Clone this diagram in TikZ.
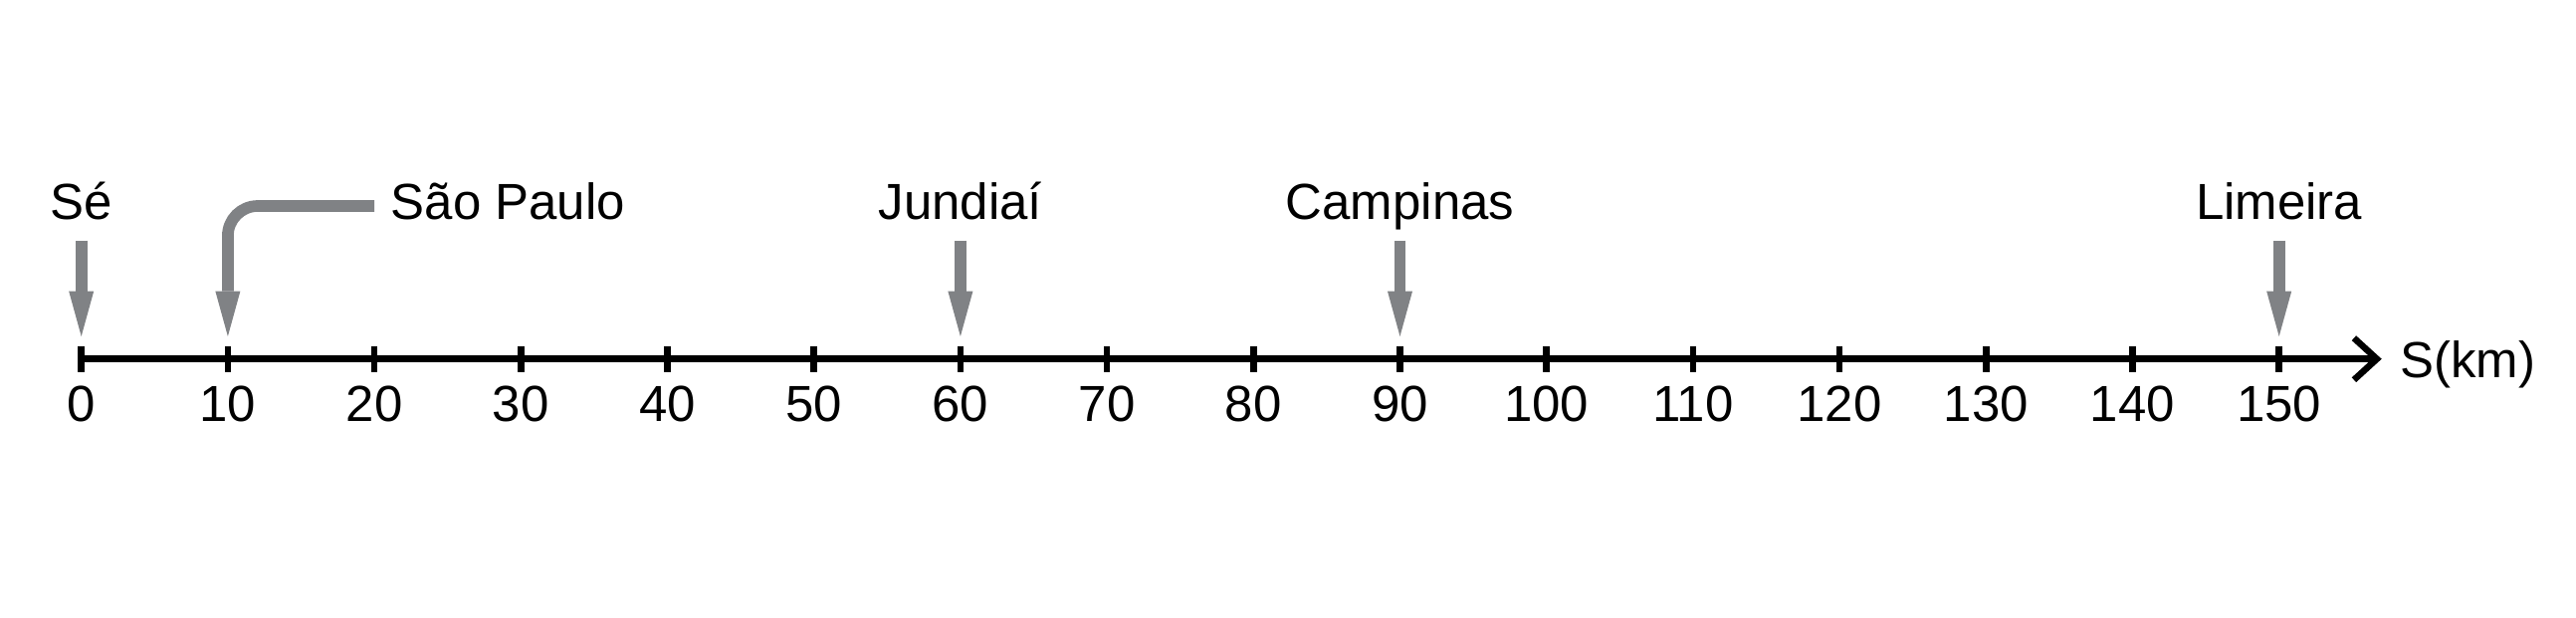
\documentclass[tikz,border=0pt]{standalone}
\usepackage{fontspec}
\setmainfont{Liberation Sans}
\usetikzlibrary{arrows.meta}
\definecolor{markgray}{RGB}{128,130,133}
\begin{document}
\begin{tikzpicture}[x=1.472mm, y=1cm,
  every node/.style={font=\fontsize{14.5}{17}\selectfont, inner sep=0pt},
  axisline/.style={line width=0.65mm, black},
  citymark/.style={line width=1.17mm, markgray, -{Triangle[length=4.53mm, width=2.5mm, line width=0pt]}}]
\useasboundingbox (-8.17mm,-25.93mm) rectangle (250.63mm,36.07mm);
% distance axis with ticks
\foreach \s in {0,10,...,150} {
  \coordinate (k\s) at (\s,0);
  \draw[axisline] ([yshift=-1.32mm]k\s) -- ([yshift=1.32mm]k\s);
  \node[anchor=base] (n\s) at (\s,-0.623) {\s};
}
\coordinate (kend) at (157,0);
\draw[axisline, -{Straight Barb[length=2.3mm, width=4.2mm]}] (k0) -- (kend);
\node[anchor=base west] (unit) at (158.2,-0.19) {S(km)};
% cities
\foreach \s/\name/\lab in {0/se/Sé, 60/jd/Jundiaí, 90/cp/Campinas, 150/lm/Limeira} {
  \node[anchor=base] (\name) at (\s,1.405) {\lab};
  \draw[citymark] ([yshift=11.9mm]k\s) -- ([yshift=2.27mm]k\s);
}
\node[anchor=base west] (sp) at (21.08,1.405) {São Paulo};
\coordinate (spend) at (20,1.537);
\draw[citymark, rounded corners=3mm] (spend) -| ([yshift=2.27mm]k10);
\end{tikzpicture}
\end{document}
